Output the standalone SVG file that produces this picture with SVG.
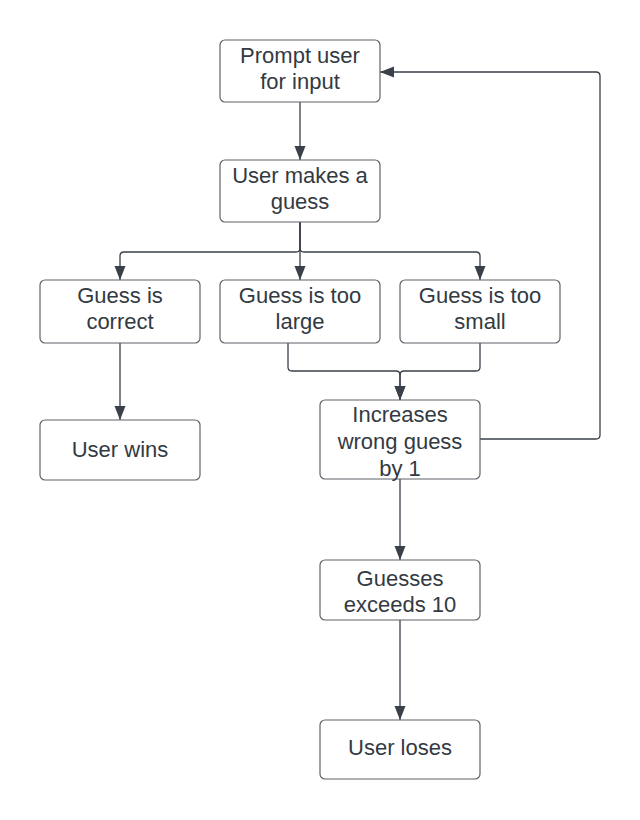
<svg xmlns="http://www.w3.org/2000/svg" width="640" height="820" viewBox="0 0 640 820">
<defs>
<style>
.box{fill:#ffffff;stroke:#5f6368;stroke-width:1.2}
.t{font-family:"Liberation Sans",Arial,sans-serif;font-size:22px;fill:#333a42;text-anchor:middle}
.c{fill:none;stroke:#3a4049;stroke-width:1.3}
</style>
<marker id="ah" markerUnits="userSpaceOnUse" markerWidth="16" markerHeight="12" refX="14" refY="5.5" orient="auto">
<path d="M0,0 L14,5.5 L0,11 Z" fill="#3a4049"/>
</marker>
</defs>
<rect width="640" height="820" fill="#ffffff"/>
<g id="connectors">
<path class="c" d="M300,102 V160" marker-end="url(#ah)"/>
<path class="c" d="M300,222 V248 Q300,252 296,252 H124 Q120,252 120,256 V280" marker-end="url(#ah)"/>
<path class="c" d="M300,222 V280" marker-end="url(#ah)"/>
<path class="c" d="M300,222 V248 Q300,252 304,252 H476 Q480,252 480,256 V280" marker-end="url(#ah)"/>
<path class="c" d="M288,343 V367 Q288,371 292,371 H396 Q400,371 400,375 V400" marker-end="url(#ah)"/>
<path class="c" d="M480,343 V367 Q480,371 476,371 H404 Q400,371 400,375 V400" marker-end="url(#ah)"/>
<path class="c" d="M120,343 V420" marker-end="url(#ah)"/>
<path class="c" d="M400,479 V560" marker-end="url(#ah)"/>
<path class="c" d="M400,620 V720" marker-end="url(#ah)"/>
<path class="c" d="M480,439 H596 Q600,439 600,435 V76 Q600,72 596,72 H380" marker-end="url(#ah)"/>
</g>
<g id="prompt">
<rect class="box" x="220" y="40" width="160" height="62" rx="5"/>
<text class="t" x="300" y="63">Prompt user</text>
<text class="t" x="300" y="89">for input</text>
</g>
<g id="guess">
<rect class="box" x="220" y="160" width="160" height="62" rx="5"/>
<text class="t" x="300" y="183">User makes a</text>
<text class="t" x="300" y="209">guess</text>
</g>
<g id="correct">
<rect class="box" x="40" y="280" width="160" height="63" rx="5"/>
<text class="t" x="120" y="303">Guess is</text>
<text class="t" x="120" y="329">correct</text>
</g>
<g id="large">
<rect class="box" x="220" y="280" width="160" height="63" rx="5"/>
<text class="t" x="300" y="303">Guess is too</text>
<text class="t" x="300" y="329">large</text>
</g>
<g id="small">
<rect class="box" x="400" y="280" width="160" height="63" rx="5"/>
<text class="t" x="480" y="303">Guess is too</text>
<text class="t" x="480" y="329">small</text>
</g>
<g id="wins">
<rect class="box" x="40" y="420" width="160" height="60" rx="5"/>
<text class="t" x="120" y="457">User wins</text>
</g>
<g id="increase">
<rect class="box" x="320" y="400" width="160" height="79" rx="5"/>
<text class="t" x="400" y="422">Increases</text>
<text class="t" x="400" y="449">wrong guess</text>
<text class="t" x="400" y="476">by 1</text>
</g>
<g id="exceeds">
<rect class="box" x="320" y="560" width="160" height="60" rx="5"/>
<text class="t" x="400" y="586">Guesses</text>
<text class="t" x="400" y="612">exceeds 10</text>
</g>
<g id="loses">
<rect class="box" x="320" y="720" width="160" height="59" rx="5"/>
<text class="t" x="400" y="755">User loses</text>
</g>
</svg>
